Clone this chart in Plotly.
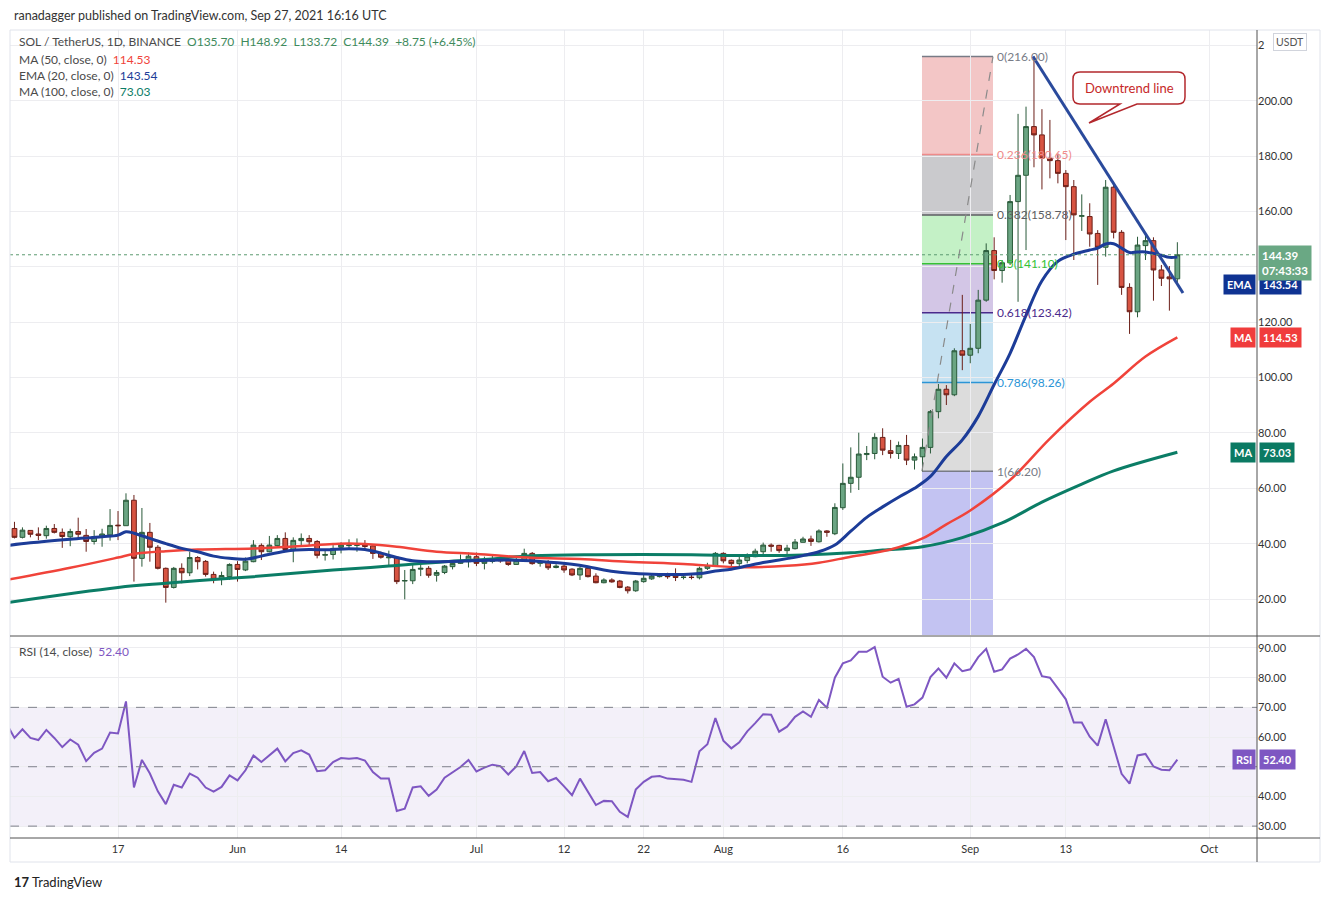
import pandas as pd
import plotly.graph_objects as go

# ---- data (SOL/USDT daily, Binance) ----
first_day = "2021-05-04"

opens = [45.5, 42.3, 44.8, 43.5, 42.9, 45.5, 44.1, 42.5, 44.4, 43.0,
         40.8, 42.3, 43.2, 46.7, 46.5, 55.7, 34.7, 44.1, 38.7, 31.1,
         24.2, 31.1, 29.5, 35.0, 33.6, 28.9, 27.1, 28.1, 32.5, 30.5,
         33.5, 39.4, 37.1, 39.3, 41.9, 37.9, 41.1, 41.9, 40.8, 35.8,
         36.1, 38.7, 39.3, 39.4, 39.5, 39.2, 36.6, 34.9, 35.1, 26.5,
         26.6, 30.8, 31.1, 28.6, 29.6, 31.7, 32.9, 33.5, 35.3, 32.9,
         33.6, 34.5, 34.1, 32.5, 34.0, 36.5, 32.9, 33.4, 31.4, 31.9,
         30.8, 28.7, 31.1, 28.3, 25.9, 26.9, 26.5, 24.3, 23.0, 26.3,
         27.3, 28.1, 28.4, 28.3, 27.8, 27.9, 27.7, 31.1, 32.0, 36.5,
         34.0, 32.8, 33.9, 35.3, 37.1, 39.5, 39.4, 37.5, 38.2, 40.5,
         41.7, 40.7, 44.6, 43.6, 53.0, 61.8, 64.0, 72.2, 72.6, 78.4,
         73.6, 72.6, 75.5, 70.2, 71.4, 74.8, 87.7, 95.8, 93.8, 109.7,
         108.1, 110.6, 128.0, 145.9, 138.7, 141.5, 163.6, 173.1, 190.7, 187.7,
         179.3, 178.4, 173.8, 169.0, 158.3, 158.2, 152.1, 147.1, 168.8, 152.5,
         132.6, 123.8, 147.7, 149.5, 138.9, 136.4, 135.70]

highs = [47.9, 45.9, 44.9, 45.9, 46.5, 47.1, 45.5, 45.4, 49.4, 45.3,
         44.9, 45.4, 52.5, 51.8, 58.2, 57.6, 52.9, 47.5, 39.5, 31.4,
         31.6, 32.9, 37.1, 35.5, 34.1, 29.9, 29.9, 32.9, 33.7, 35.0,
         41.3, 40.1, 42.8, 43.1, 44.1, 42.3, 43.7, 43.1, 41.3, 37.7,
         39.5, 40.5, 41.6, 41.9, 41.3, 39.4, 37.2, 37.5, 35.3, 30.5,
         32.5, 33.1, 31.9, 30.5, 32.3, 34.1, 36.1, 36.8, 36.8, 35.3,
         35.9, 35.5, 35.1, 35.1, 38.2, 37.0, 34.1, 34.1, 32.6, 32.6,
         31.1, 31.7, 31.7, 29.3, 27.5, 27.5, 26.9, 24.7, 26.9, 28.7,
         29.3, 29.3, 29.5, 31.1, 28.7, 28.7, 31.7, 33.1, 37.0, 36.9,
         34.3, 35.3, 36.5, 38.2, 40.4, 40.1, 39.6, 39.6, 41.7, 42.5,
         42.9, 45.2, 44.9, 54.6, 69.0, 74.8, 80.1, 75.3, 79.9, 81.7,
         77.5, 76.9, 79.3, 72.6, 78.0, 88.3, 97.7, 97.3, 110.6, 129.9,
         119.4, 131.7, 148.5, 150.7, 142.5, 166.0, 195.3, 197.9, 216.0, 197.0,
         193.1, 181.0, 175.0, 171.4, 166.2, 163.0, 153.3, 171.4, 170.0, 153.3,
         134.1, 150.9, 151.5, 150.7, 140.7, 140.3, 148.92]

lows = [41.9, 41.9, 42.3, 41.3, 41.8, 43.7, 38.5, 39.1, 41.8, 37.1,
        39.7, 38.9, 41.1, 41.3, 46.5, 26.3, 31.7, 33.5, 30.7, 18.7,
        23.8, 25.7, 28.3, 30.7, 28.1, 25.7, 25.0, 26.9, 26.3, 30.1,
        33.3, 34.1, 36.9, 38.6, 37.7, 33.3, 39.2, 39.5, 34.7, 33.9,
        34.3, 36.5, 37.9, 37.1, 37.7, 34.5, 34.6, 31.7, 25.4, 19.9,
        25.4, 28.3, 27.7, 26.3, 29.0, 30.7, 32.7, 31.4, 31.9, 30.7,
        32.9, 33.1, 32.0, 32.3, 33.7, 32.4, 31.7, 30.5, 31.1, 29.5,
        28.3, 26.9, 27.8, 25.7, 25.7, 25.9, 23.9, 22.0, 22.6, 25.9,
        26.9, 27.8, 27.3, 26.5, 27.1, 27.1, 27.1, 30.5, 31.9, 32.9,
        31.9, 31.7, 32.9, 35.1, 35.3, 37.1, 36.7, 35.9, 37.9, 40.4,
        39.2, 40.4, 42.5, 43.1, 52.2, 58.4, 59.4, 70.2, 70.5, 72.0,
        70.8, 70.6, 68.4, 66.8, 66.2, 72.6, 85.3, 90.1, 93.3, 102.7,
        105.2, 108.8, 127.4, 135.5, 134.3, 140.7, 127.4, 146.1, 176.0, 168.0,
        172.0, 170.2, 149.7, 142.5, 153.0, 147.3, 133.5, 143.7, 150.3, 129.9,
        115.8, 121.8, 142.5, 127.8, 133.1, 124.2, 133.72]

closes = [42.3, 44.9, 43.4, 43.0, 45.5, 44.1, 42.6, 44.4, 43.4, 40.8,
          42.6, 43.5, 46.6, 46.5, 55.7, 34.7, 44.1, 38.7, 31.1, 24.2,
          31.1, 29.5, 35.0, 33.5, 28.9, 27.1, 28.5, 32.5, 30.7, 33.7,
          39.5, 37.1, 39.5, 41.9, 37.9, 41.2, 41.9, 40.7, 35.8, 36.1,
          38.3, 39.5, 39.5, 39.5, 39.0, 36.5, 35.1, 35.2, 26.3, 26.7,
          30.7, 31.1, 28.6, 29.6, 31.9, 32.9, 33.7, 35.5, 32.9, 33.7,
          34.5, 33.8, 32.5, 34.0, 36.5, 32.8, 33.5, 31.3, 31.9, 30.5,
          28.7, 31.1, 28.1, 25.9, 26.9, 26.2, 24.2, 23.0, 26.5, 27.5,
          28.3, 28.6, 28.1, 27.8, 27.9, 27.8, 31.1, 32.0, 36.5, 33.8,
          32.8, 34.1, 35.5, 37.3, 39.5, 39.1, 37.5, 38.4, 40.6, 41.7,
          40.8, 44.6, 44.1, 53.1, 61.8, 64.0, 72.4, 72.6, 78.4, 73.8,
          72.6, 75.5, 70.2, 71.4, 74.8, 87.7, 95.8, 93.8, 109.7, 108.1,
          110.6, 128.0, 145.9, 138.7, 141.5, 163.6, 173.1, 190.7, 187.7, 179.3,
          178.4, 173.8, 169.0, 158.8, 158.5, 151.9, 147.1, 168.8, 152.5, 132.6,
          123.8, 147.9, 149.5, 138.9, 135.9, 135.7, 144.39]

# moving averages, read at day offsets from first_day
ema_days = [-1, 2, 7, 11, 13, 14, 15, 17, 19, 21, 23, 25, 27, 29, 31, 34, 37, 39,
            42, 44, 46, 48, 50, 52, 55, 58, 62, 66, 70, 72, 74, 76, 78, 80, 84,
            86, 88, 90, 92, 94, 96, 99, 101, 103, 105, 107, 109, 111, 113, 115,
            117, 119, 121, 123, 125, 127, 129, 131, 133, 135, 136, 137, 138, 139,
            140, 141, 142, 143, 144, 145, 146]
ema_vals = [39.3, 40.3, 41.6, 42.5, 43.1, 44.3, 43.8, 41.9, 40.0, 38.3, 37.1, 35.5,
            34.7, 34.4, 35.5, 37.3, 37.9, 37.8, 38.2, 37.9, 36.6, 35.0, 33.8, 33.5,
            33.6, 33.9, 34.1, 33.6, 32.6, 31.7, 30.5, 29.7, 29.2, 29.0, 28.9, 29.2,
            30.1, 30.8, 32.0, 33.2, 34.1, 35.7, 37.1, 39.5, 44.5, 49.5, 53.3, 56.8,
            60.0, 64.3, 71.5, 77.5, 86.0, 97.5, 108.8, 122.5, 135.0, 142.0, 144.6,
            146.1, 146.8, 148.3, 148.4, 146.8, 145.2, 145.4, 145.4, 144.9, 144.2,
            143.45, 143.54]

ma50_days = [-1, 7, 13, 15, 19, 23, 30, 35, 40, 42, 44, 48, 53, 58, 65, 71, 77, 84,
             91, 97, 101, 105, 110, 114, 117, 120, 125, 130, 135, 138, 142, 146]
ma50_vals = [26.9, 31.3, 35.0, 36.3, 37.3, 37.9, 38.3, 39.0, 39.9, 40.1, 39.9, 38.9,
             37.1, 36.3, 34.9, 34.5, 33.5, 32.7, 31.5, 32.0, 33.1, 35.3, 37.9, 41.9,
             47.0, 52.0, 63.0, 78.0, 91.3, 97.9, 107.6, 114.53]

ma100_days = [-1, 13, 19, 28, 30, 40, 47, 54, 59, 65, 73, 85, 92, 99, 105, 109, 114,
              119, 124, 129, 134, 138, 146]
ma100_vals = [18.7, 24.2, 25.7, 27.7, 28.1, 30.5, 31.9, 33.5, 34.3, 35.6, 36.0, 36.0,
              35.7, 35.9, 36.7, 37.7, 38.9, 42.2, 47.5, 55.0, 61.5, 66.3, 73.03]

# RSI(14), one value per day starting the day before first_day
rsi_vals = [64.5,
            59.7, 62.6, 59.7, 59.0, 62.4, 59.7, 56.6, 59.2, 57.4, 51.9,
            54.7, 56.1, 61.5, 61.2, 72.0, 43.0, 52.3, 47.7, 41.7, 37.4,
            43.9, 43.0, 47.7, 46.3, 43.0, 41.6, 43.2, 47.1, 45.4, 48.8,
            53.8, 51.6, 53.8, 56.1, 51.8, 54.6, 55.5, 54.1, 48.5, 48.8,
            51.6, 52.9, 52.7, 52.9, 52.1, 48.2, 46.0, 46.0, 35.1, 35.9,
            43.0, 43.4, 40.2, 42.3, 46.3, 48.2, 49.9, 52.3, 48.4, 49.7,
            50.7, 50.2, 47.4, 50.1, 55.3, 47.9, 48.2, 45.1, 46.2, 43.4,
            40.4, 46.0, 41.3, 37.1, 38.5, 38.4, 34.8, 33.1, 42.3, 44.9,
            46.6, 46.9, 46.0, 45.7, 45.6, 44.9, 55.2, 57.6, 66.4, 58.8,
            56.2, 58.2, 61.9, 64.7, 67.7, 67.5, 61.8, 63.5, 66.8, 68.6,
            66.8, 72.5, 69.9, 80.0, 84.8, 85.8, 88.7, 88.7, 90.3, 80.3,
            78.3, 79.6, 70.2, 71.0, 73.3, 80.2, 83.1, 80.0, 84.8, 82.2,
            82.8, 86.9, 89.7, 82.0, 82.8, 86.4, 87.8, 89.7, 86.9, 80.5,
            80.0, 76.4, 72.7, 64.9, 64.9, 60.1, 57.1, 66.0, 57.1, 47.6,
            44.3, 53.8, 54.3, 50.1, 49.0, 48.8, 52.4]

# Fibonacci retracement drawing
fib_start, fib_end = "2021-08-25 22:30", "2021-09-03 20:30"
fib_ratios = ["0", "0.236", "0.382", "0.5", "0.618", "0.786", "1"]
fib_prices = [216.00, 180.65, 158.78, 141.10, 123.42, 98.26, 66.20]
fib_line_colors = ["#787b86", "#ef8a8a", "#5d5d62", "#35c235", "#4a2a8c", "#2b95d6", "#787b86"]
fib_fill_colors = ["#f3c6c6", "#cacacd", "#c4f1c6", "#d3c6e6", "#c6e2f2", "#dcdcdc"]
fib_below_fill = "#c3c3f2"

# downtrend line drawing
trend_x = ["2021-09-08 21:00", "2021-09-27 17:00"]
trend_y = [216.0, 130.6]

tick_dates = ["2021-05-17", "2021-06-01", "2021-06-14", "2021-07-01", "2021-07-12",
              "2021-07-22", "2021-08-01", "2021-08-16", "2021-09-01", "2021-09-13",
              "2021-10-01"]
tick_text = ["17", "Jun", "14", "Jul", "12", "22", "Aug", "16", "Sep", "13", "Oct"]
price_ticks = [20, 40, 60, 80, 100, 120, 140, 160, 180, 200, 220]
# 140.00 sits under the last-price tag and 220.00 under the USDT badge (only its "2" peeks out)
price_tick_text = ["20.00", "40.00", "60.00", "80.00", "100.00", "120.00", "",
                   "160.00", "180.00", "200.00", "2"]
rsi_ticks = [30, 40, 50, 60, 70, 80, 90]
# 50.00 sits under the RSI tag
rsi_tick_text = ["30.00", "40.00", "", "60.00", "70.00", "80.00", "90.00"]

last_price = 144.39
ma50_last, ema_last, ma100_last, rsi_last = 114.53, 143.54, 73.03, 52.40

# ---- build ----
base = pd.Timestamp(first_day)
dates = pd.date_range(base, periods=len(closes), freq="D")
to_dates = lambda days: [base + pd.Timedelta(days=d) for d in days]
rsi_dates = pd.date_range(base - pd.Timedelta(days=1), periods=len(rsi_vals), freq="D")

FONT = "Lato, 'Open Sans', sans-serif"
GRID = "#ededf0"
EMA_C, MA50_C, MA100_C, RSI_C = "#1c3c98", "#f0433a", "#0b7d66", "#7e57c2"

# page pixel -> paper helpers for chart chrome (page has an 8px body margin)
OFF = 8
W, H = 1330 - 2 * OFF, 900 - 2 * OFF
PL, PR, PT, PB = 10, 1257, 30, 838
def px(x):
    return (x - PL) / (PR - PL)
def py(y):
    return (PB - y) / (PB - PT)

fig = go.Figure()

fig.add_trace(go.Candlestick(
    x=dates, open=opens, high=highs, low=lows, close=closes,
    increasing=dict(fillcolor="#6ba583", line=dict(color="#2a5a3a", width=1)),
    decreasing=dict(fillcolor="#d75442", line=dict(color="#6b1f18", width=1)),
    whiskerwidth=0, hoverinfo="skip", showlegend=False, xaxis="x", yaxis="y"))

fig.add_trace(go.Scatter(x=to_dates(ma100_days), y=ma100_vals, mode="lines",
                         line=dict(color=MA100_C, width=3, shape="spline"),
                         showlegend=False, hoverinfo="skip"))
fig.add_trace(go.Scatter(x=to_dates(ma50_days), y=ma50_vals, mode="lines",
                         line=dict(color=MA50_C, width=2.5, shape="spline"),
                         showlegend=False, hoverinfo="skip"))
fig.add_trace(go.Scatter(x=to_dates(ema_days), y=ema_vals, mode="lines",
                         line=dict(color=EMA_C, width=3, shape="spline"),
                         showlegend=False, hoverinfo="skip"))

# downtrend line
fig.add_trace(go.Scatter(x=trend_x, y=trend_y, mode="lines",
                         line=dict(color="#2a4a9c", width=3),
                         showlegend=False, hoverinfo="skip"))

# RSI
fig.add_trace(go.Scatter(x=rsi_dates, y=rsi_vals, mode="lines",
                         line=dict(color=RSI_C, width=2),
                         showlegend=False, hoverinfo="skip", xaxis="x2", yaxis="y2"))

shapes = []
# fib bands
for i in range(len(fib_fill_colors)):
    shapes.append(dict(type="rect", xref="x", yref="y", x0=fib_start, x1=fib_end,
                       y0=fib_prices[i + 1], y1=fib_prices[i], fillcolor=fib_fill_colors[i],
                       line=dict(width=0), layer="below"))
shapes.append(dict(type="rect", xref="x", yref="y", x0=fib_start, x1=fib_end,
                   y0=7.0, y1=fib_prices[-1], fillcolor=fib_below_fill,
                   line=dict(width=0), layer="below"))
for p, c in zip(fib_prices, fib_line_colors):
    shapes.append(dict(type="line", xref="x", yref="y", x0=fib_start, x1=fib_end,
                       y0=p, y1=p, line=dict(color=c, width=1.5), layer="below"))
# fib dashed diagonal
shapes.append(dict(type="line", xref="x", yref="y", x0=fib_start, x1=fib_end,
                   y0=fib_prices[-1], y1=fib_prices[0],
                   line=dict(color="#8a8a8a", width=1.2, dash="dash")))
# last price dotted line
shapes.append(dict(type="line", xref="paper", yref="y", x0=0, x1=1,
                   y0=last_price, y1=last_price,
                   line=dict(color="#5c9a70", width=1, dash="dot")))
# RSI band + levels
shapes.append(dict(type="rect", xref="paper", yref="y2", x0=0, x1=1, y0=30, y1=70,
                   fillcolor="rgba(126,87,194,0.09)", line=dict(width=0), layer="below"))
for lvl in (70, 50, 30):
    shapes.append(dict(type="line", xref="paper", yref="y2", x0=0, x1=1, y0=lvl, y1=lvl,
                       line=dict(color="#7f818c", width=1, dash="dash")))
# frame
shapes.append(dict(type="rect", xref="paper", yref="paper", x0=px(10), x1=px(1320),
                   y0=py(862), y1=py(30), line=dict(color="#e0e3eb", width=1)))
for yy in (636, 838):
    shapes.append(dict(type="line", xref="paper", yref="paper", x0=px(10), x1=px(1320),
                       y0=py(yy), y1=py(yy), line=dict(color="#505050", width=1)))
shapes.append(dict(type="line", xref="paper", yref="paper", x0=px(1257), x1=px(1257),
                   y0=py(862), y1=py(30), line=dict(color="#505050", width=1)))

# callout bubble for the downtrend line
bx0, bx1, by0, by1, r = 1073, 1185, 72, 104, 7
tx0, tx1, tipx, tipy = 1120, 1137, 1089, 123
def P(x, y):
    return f"{px(x):.5f},{py(y):.5f}"
bubble = (f"M{P(bx0 + r, by0)} L{P(bx1 - r, by0)} Q{P(bx1, by0)} {P(bx1, by0 + r)} "
          f"L{P(bx1, by1 - r)} Q{P(bx1, by1)} {P(bx1 - r, by1)} L{P(tx1, by1)} "
          f"L{P(tipx, tipy)} L{P(tx0, by1)} L{P(bx0 + r, by1)} Q{P(bx0, by1)} {P(bx0, by1 - r)} "
          f"L{P(bx0, by0 + r)} Q{P(bx0, by0)} {P(bx0 + r, by0)} Z")
shapes.append(dict(type="path", xref="paper", yref="paper", path=bubble,
                   fillcolor="white", line=dict(color="#b3282d", width=1.5)))

annotations = []
def note(text, x, y, size=12, color="#444", xanchor="left", yanchor="middle", **kw):
    annotations.append(dict(text=text, x=x, y=y, xref=kw.pop("xref", "paper"),
                            yref=kw.pop("yref", "paper"), showarrow=False,
                            xanchor=xanchor, yanchor=yanchor,
                            font=dict(family=FONT, size=size, color=color), **kw))

note("ranadagger published on TradingView.com, Sep 27, 2021 16:16 UTC", px(12), py(15),
     size=12.5, color="#333")
note("SOL / TetherUS, 1D, BINANCE&nbsp;&nbsp;<span style='color:#3e8a5c'>O135.70&nbsp;&nbsp;"
     "H148.92&nbsp;&nbsp;L133.72&nbsp;&nbsp;C144.39&nbsp;&nbsp;+8.75 (+6.45%)</span>",
     px(17), py(41), color="#4a4a4a")
note(f"MA (50, close, 0)&nbsp;&nbsp;<span style='color:{MA50_C}'>{ma50_last:.2f}</span>",
     px(17), py(59), color="#4a4a4a")
note(f"EMA (20, close, 0)&nbsp;&nbsp;<span style='color:{EMA_C}'>{ema_last:.2f}</span>",
     px(17), py(75), color="#4a4a4a")
note(f"MA (100, close, 0)&nbsp;&nbsp;<span style='color:{MA100_C}'>{ma100_last:.2f}</span>",
     px(17), py(92), color="#4a4a4a")
note(f"RSI (14, close)&nbsp;&nbsp;<span style='color:{RSI_C}'>{rsi_last:.2f}</span>",
     px(17), py(651), color="#4a4a4a")
note("Downtrend line", px(1129), py(88), size=13, color="#c62828", xanchor="center")

# fib labels
for ratio, p, c in zip(fib_ratios, fib_prices, fib_line_colors):
    note(f"{ratio}({p:.2f})", fib_end, p, size=12, color=c, xref="x", yref="y", xshift=2)

# right-axis tags
note("USDT", px(1290), py(42), size=10.5, color="#555", xanchor="center",
     bgcolor="white", bordercolor="#d1d4dc", borderwidth=1, borderpad=2)
for lbl, val, col, yr, ys in [("EMA", ema_last, "#0f3392", "y", -27),
                              ("MA", ma50_last, "#f03c3c", "y", 0),
                              ("MA", ma100_last, "#0b7a63", "y", 0),
                              ("RSI", rsi_last, RSI_C, "y2", 0)]:
    note(f"<b>{lbl}</b>", px(1256), val, size=11, color="white", xanchor="right", yref=yr,
         yshift=ys, bgcolor=col, borderpad=3)
    note(f"<b>{val:.2f}</b>", px(1259), val, size=11, color="white", yref=yr,
         yshift=ys, bgcolor=col, borderpad=3)
note(f"<b>{last_price:.2f}</b><br><b>07:43:33</b>", px(1258), last_price, size=11.5,
     color="white", yref="y", yanchor="top", yshift=10, bgcolor="#6aa884", borderpad=3,
     align="left")

# TradingView logo
note("<b>17</b>&nbsp;TradingView", px(12), py(882), size=13, color="#222")

fig.update_layout(
    width=W, height=H,
    margin=dict(l=PL - OFF, r=W + OFF - PR, t=PT - OFF, b=H + OFF - PB),
    paper_bgcolor="white", plot_bgcolor="white",
    font=dict(family=FONT, size=11, color="#333"),
    showlegend=False, boxgap=0.15,
    shapes=shapes, annotations=annotations,
    xaxis=dict(domain=[0, 1], anchor="y", type="date",
               range=["2021-05-03 10:30", "2021-10-07 00:00"],
               tickvals=tick_dates, showticklabels=False, showgrid=True, gridcolor=GRID,
               zeroline=False, showline=False, rangeslider=dict(visible=False), fixedrange=True),
    yaxis=dict(domain=[0.2512, 1], anchor="x", side="right", range=[7.0, 225.6],
               tickvals=price_ticks, ticktext=price_tick_text, showgrid=True, gridcolor=GRID,
               zeroline=False, showline=False, ticks="", tickfont=dict(size=11, color="#333")),
    xaxis2=dict(domain=[0, 1], anchor="y2", type="date", matches="x",
                range=["2021-05-03 10:30", "2021-10-07 00:00"],
                tickvals=tick_dates, ticktext=tick_text, showgrid=True, gridcolor=GRID,
                zeroline=False, showline=False, ticks="", ticklabelstandoff=3,
                tickfont=dict(size=11, color="#333")),
    yaxis2=dict(domain=[0, 0.2488], anchor="x2", side="right", range=[26.0, 93.7],
                tickvals=rsi_ticks, ticktext=rsi_tick_text, showgrid=True, gridcolor=GRID,
                zeroline=False, showline=False, ticks="", tickfont=dict(size=11, color="#333")),
)

fig.write_html("out.html")
